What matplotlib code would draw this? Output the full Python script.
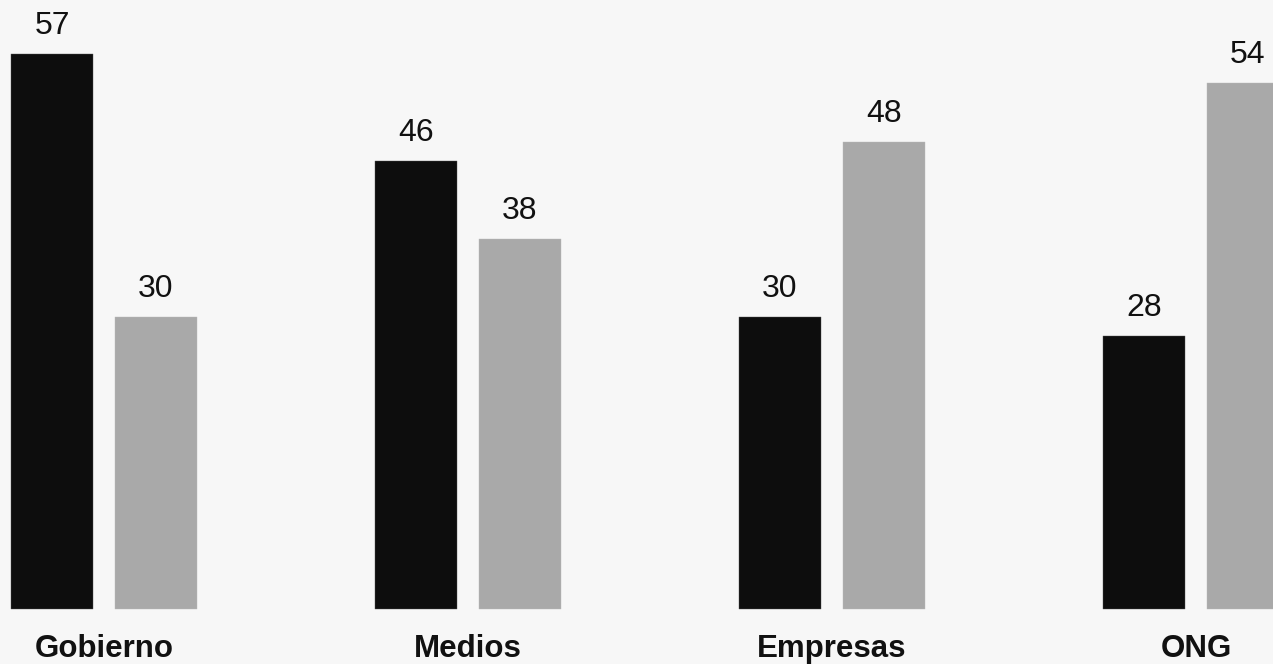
import matplotlib
matplotlib.use("Agg")
import matplotlib.pyplot as plt
import numpy as np

categories = ["Gobierno", "Medios", "Empresas", "ONG"]
series_a = [57, 46, 30, 28]
series_b = [30, 38, 48, 54]

plt.rcParams['font.family'] = ['Liberation Sans', 'DejaVu Sans']

W, H = 1273, 664
fig = plt.figure(figsize=(W / 100, H / 100), dpi=100)
fig.patch.set_facecolor('#f7f7f7')
ax = fig.add_axes([0, 0, 1, 1])
ax.set_facecolor('#f7f7f7')

px = 364.0  # pixels per group
bw = 82 / px
off = 104 / px / 2
x = np.arange(len(categories))

ax.bar(x - off, series_a, width=bw, color='#0d0d0d', edgecolor='#555555', linewidth=0.3)
ax.bar(x + off, series_b, width=bw, color='#a9a9a9', edgecolor='#bbbbbb', linewidth=0.3)

ppu = 555 / 57.0  # pixels per unit
base = 609
ax.set_xlim(-104 / px, (W - 104) / px)
ax.set_ylim(-(H - base) / ppu, base / ppu)

lab_off = 28 / ppu
for xi, v in zip(x - off, series_a):
    ax.text(xi, v + lab_off, str(v), ha='center', va='center', fontsize=23, color='#111111')
for xi, v in zip(x + off, series_b):
    ax.text(xi, v + lab_off, str(v), ha='center', va='center', fontsize=23, color='#111111')

for xi, c in zip(x, categories):
    ax.text(xi, -(649 - base) / ppu, c, ha='center', va='center', fontsize=22.5,
            fontweight='bold', color='#111111')

ax.axis('off')
fig.savefig('out.png', dpi=100, facecolor=fig.get_facecolor())
